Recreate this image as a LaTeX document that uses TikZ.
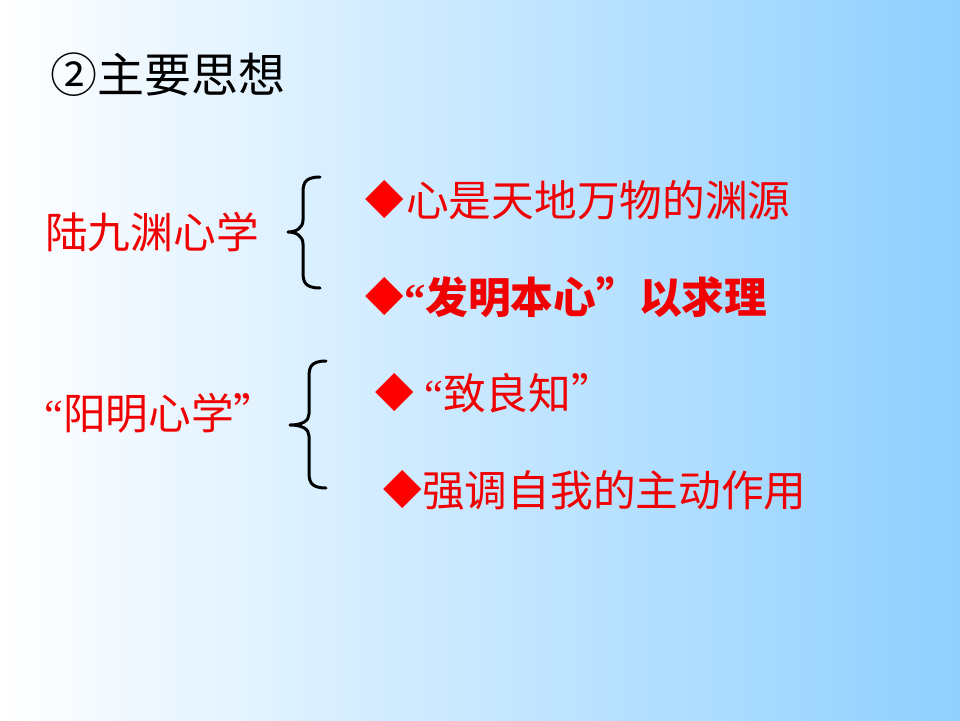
\documentclass[tikz,border=0pt]{standalone}
\usepackage{fontspec}
\newfontfamily\cjk{Noto Sans CJK SC}
\newfontfamily\sym{DejaVu Sans}
\newfontfamily\lat{Liberation Serif}
\definecolor{bgblue}{RGB}{143,208,255}
\definecolor{txtred}{RGB}{240,0,0}
\begin{document}
\begin{tikzpicture}[x=1pt,y=-1pt,
  title/.style={anchor=west,inner sep=0pt,font=\cjk\fontsize{47}{52}\selectfont,text=black},
  redtext/.style={anchor=west,inner sep=0pt,font=\cjk\fontsize{42.7}{48}\selectfont,text=txtred},
  bullet/.style={anchor=west,inner sep=0pt,font=\sym\fontsize{50}{56}\selectfont,text=red},
  bracepath/.style={draw=black,line width=3pt,line cap=round,line join=round}]
\shade[left color=white,right color=bgblue] (0,0) rectangle (960,720);
\useasboundingbox (0,0) rectangle (960,720);
\node[title] (title) at (50,75) {②主要思想};
\node[redtext] (lu) at (45,232) {陆九渊心学};
\node[redtext] (yang) at (44,413) {{\lat “}阳明心学”};
% braces
\coordinate (b1t) at (320,177);
\coordinate (b1b) at (320,288);
\draw[bracepath] (b1t) .. controls (303,177) and (303,185) .. (303,195) -- (303,220) .. controls (303,228) and (296,232) .. (288,232) .. controls (296,232) and (303,236) .. (303,244) -- (303,270) .. controls (303,280) and (303,288) .. (b1b);
\coordinate (b2t) at (326,361);
\coordinate (b2b) at (326,488);
\draw[bracepath] (b2t) .. controls (309,361) and (309,369) .. (309,379) -- (309,414) .. controls (309,421) and (302,425) .. (290,425) .. controls (302,425) and (309,429) .. (309,436) -- (309,470) .. controls (309,480) and (309,488) .. (b2b);
% items
\node[bullet] (d1) at (365,200) {◆};
\node[redtext] (i1) at (406,200) {心是天地万物的渊源};
\node[bullet] (d2) at (365,297) {◆};
\node[redtext,font=\cjk\bfseries\fontsize{42.7}{48}\selectfont] (i2) at (404,297) {{\lat\bfseries “}发明本心”以求理};
\node[bullet] (d3) at (375,393) {◆};
\node[redtext] (i3) at (424,393) {{\lat “}致良知”};
\node[bullet] (d4) at (383,490) {◆};
\node[redtext] (i4) at (422,490) {强调自我的主动作用};
\end{tikzpicture}
\end{document}
